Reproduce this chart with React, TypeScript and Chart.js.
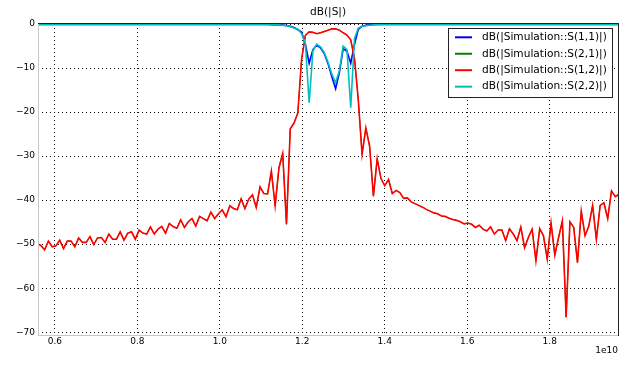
import React, { useEffect, useRef } from 'react';
import { Chart, registerables } from 'chart.js';

Chart.register(...registerables);

// Frequency sweep (units of 1e10 Hz)
const FREQ_START = 0.5569;
const FREQ_STEP = 0.009164;

const S12_DB = [
  -49.8, -50.3, -51.3, -49.3, -50.6, -50.4, -49.1, -51.0, -49.3, -49.3,
  -50.6, -48.6, -49.6, -49.6, -48.3, -50.1, -48.6, -48.5, -49.6, -47.7,
  -48.9, -48.9, -47.2, -49.1, -47.5, -47.2, -48.9, -46.8, -47.5, -47.7,
  -46.1, -47.7, -46.6, -46.0, -47.5, -45.3, -46.0, -46.4, -44.5, -46.2,
  -44.9, -44.2, -45.9, -43.7, -44.2, -44.7, -42.7, -44.2, -43.1, -42.2,
  -43.8, -41.3, -41.9, -42.2, -39.7, -41.9, -39.8, -38.8, -41.7, -37.0,
  -38.5, -38.6, -33.4, -41.3, -32.7, -29.4, -45.5, -23.8, -22.5, -20.2,
  -8.0, -2.6, -1.8, -1.9, -2.2, -2.0, -1.7, -1.4, -1.1, -1.1,
  -1.4, -2.0, -2.5, -3.6, -7.8, -17.2, -29.6, -23.6, -27.8, -39.1,
  -30.6, -35.1, -36.7, -35.3, -38.5, -37.8, -38.3, -39.6, -39.5, -40.4,
  -40.8, -41.2, -41.6, -42.1, -42.5, -42.9, -43.1, -43.6, -43.7, -44.1,
  -44.4, -44.6, -44.9, -45.4, -45.2, -45.5, -46.2, -45.7, -46.6, -47.0,
  -46.1, -47.7, -46.8, -46.8, -49.2, -46.5, -47.7, -49.2, -46.1, -50.8,
  -48.5, -46.6, -53.8, -46.5, -48.1, -53.4, -45.1, -52.5, -48.5, -44.7,
  -66.6, -44.9, -46.2, -54.2, -42.5, -48.1, -45.9, -41.2, -48.9, -41.2,
  -40.6, -44.2, -37.9, -39.2, -38.7,
];

// reciprocal network: S(2,1) equals S(1,2)
const S21_DB = [...S12_DB];

const S11_DB = [
  -0.1, -0.1, -0.1, -0.1, -0.1, -0.1, -0.1, -0.1, -0.1, -0.1,
  -0.1, -0.1, -0.1, -0.1, -0.1, -0.1, -0.1, -0.1, -0.1, -0.1,
  -0.1, -0.1, -0.1, -0.1, -0.1, -0.1, -0.1, -0.1, -0.1, -0.1,
  -0.1, -0.1, -0.1, -0.1, -0.1, -0.1, -0.1, -0.1, -0.1, -0.1,
  -0.1, -0.1, -0.1, -0.1, -0.1, -0.1, -0.1, -0.1, -0.1, -0.1,
  -0.1, -0.1, -0.1, -0.1, -0.1, -0.1, -0.1, -0.1, -0.1, -0.1,
  -0.12, -0.12, -0.15, -0.2, -0.2, -0.25, -0.35, -0.5, -0.8, -1.3,
  -1.8, -4.6, -8.9, -5.8, -4.8, -5.4, -6.7, -9.0, -12.0, -14.7,
  -11.0, -5.6, -6.2, -8.9, -4.6, -1.2, -0.5, -0.3, -0.2, -0.15,
  -0.12, -0.12, -0.1, -0.1, -0.1, -0.1, -0.1, -0.1, -0.1, -0.1,
  -0.1, -0.1, -0.1, -0.1, -0.1, -0.1, -0.1, -0.1, -0.1, -0.1,
  -0.1, -0.1, -0.1, -0.1, -0.1, -0.1, -0.1, -0.1, -0.1, -0.1,
  -0.1, -0.1, -0.1, -0.1, -0.1, -0.1, -0.1, -0.1, -0.1, -0.1,
  -0.1, -0.1, -0.1, -0.1, -0.1, -0.1, -0.1, -0.1, -0.1, -0.1,
  -0.1, -0.1, -0.1, -0.1, -0.1, -0.1, -0.1, -0.1, -0.1, -0.1,
  -0.1, -0.1, -0.1, -0.1, -0.1,
];

const S22_DB = [
  -0.1, -0.1, -0.1, -0.1, -0.1, -0.1, -0.1, -0.1, -0.1, -0.1,
  -0.1, -0.1, -0.1, -0.1, -0.1, -0.1, -0.1, -0.1, -0.1, -0.1,
  -0.1, -0.1, -0.1, -0.1, -0.1, -0.1, -0.1, -0.1, -0.1, -0.1,
  -0.1, -0.1, -0.1, -0.1, -0.1, -0.1, -0.1, -0.1, -0.1, -0.1,
  -0.1, -0.1, -0.1, -0.1, -0.1, -0.1, -0.1, -0.1, -0.1, -0.1,
  -0.1, -0.1, -0.1, -0.1, -0.1, -0.1, -0.1, -0.1, -0.1, -0.1,
  -0.12, -0.12, -0.15, -0.2, -0.2, -0.3, -0.4, -0.6, -0.9, -1.2,
  -2.2, -4.4, -17.9, -6.1, -4.6, -5.2, -6.5, -8.7, -11.4, -13.3,
  -10.6, -5.0, -5.8, -19.0, -3.3, -0.9, -0.5, -0.4, -0.3, -0.2,
  -0.15, -0.12, -0.1, -0.1, -0.1, -0.1, -0.1, -0.1, -0.1, -0.1,
  -0.1, -0.1, -0.1, -0.1, -0.1, -0.1, -0.1, -0.1, -0.1, -0.1,
  -0.1, -0.1, -0.1, -0.1, -0.1, -0.1, -0.1, -0.1, -0.1, -0.1,
  -0.1, -0.1, -0.1, -0.1, -0.1, -0.1, -0.1, -0.1, -0.1, -0.1,
  -0.1, -0.1, -0.1, -0.1, -0.1, -0.1, -0.1, -0.1, -0.1, -0.1,
  -0.1, -0.1, -0.1, -0.1, -0.1, -0.1, -0.1, -0.1, -0.1, -0.1,
  -0.1, -0.1, -0.1, -0.1, -0.1,
];

const SERIES_NAMES = [
  'dB(|Simulation::S(1,1)|)',
  'dB(|Simulation::S(2,1)|)',
  'dB(|Simulation::S(1,2)|)',
  'dB(|Simulation::S(2,2)|)',
];
const SERIES_COLORS = ['#0000ff', '#008000', '#ff0000', '#00bfbf'];
const SERIES_WIDTHS = [1.6, 1.0, 1.6, 1.6];
const X_TICKS = [0.6, 0.8, 1.0, 1.2, 1.4, 1.6, 1.8];
const Y_TICKS = [0, -10, -20, -30, -40, -50, -60, -70];
const TITLE = 'dB(|S|)';
const X_OFFSET_LABEL = '1e10';

const FONT = '"DejaVu Sans", sans-serif';

const FREQ = S12_DB.map((_, i) => FREQ_START + i * FREQ_STEP);

const toPoints = (vals: number[]) => vals.map((y, i) => ({ x: FREQ[i], y }));

const overlayPlugin = {
  id: 'overlay',
  afterDraw(chart: any) {
    const { ctx, chartArea: a } = chart;
    ctx.save();
    // spines
    ctx.lineWidth = 1;
    ctx.strokeStyle = '#c8c8c8';
    ctx.beginPath();
    ctx.moveTo(38.5, a.top);
    ctx.lineTo(38.5, 336);
    ctx.moveTo(38, 335.5);
    ctx.lineTo(618, 335.5);
    ctx.stroke();
    ctx.strokeStyle = '#222';
    ctx.beginPath();
    ctx.moveTo(618.5, 24);
    ctx.lineTo(618.5, 336);
    ctx.moveTo(38, 23.5);
    ctx.lineTo(619, 23.5);
    ctx.stroke();

    // title
    ctx.fillStyle = '#000';
    ctx.font = `10.6px ${FONT}`;
    ctx.textAlign = 'center';
    ctx.textBaseline = 'middle';
    ctx.fillText(TITLE, (a.left + a.right) / 2, 12);

    // offset label
    ctx.font = `9px ${FONT}`;
    ctx.textAlign = 'right';
    ctx.fillText(X_OFFSET_LABEL, 618, 351);

    // legend
    const bx = 448.5, by = 28.5, bw = 164, bh = 69;
    ctx.fillStyle = '#fff';
    ctx.fillRect(bx, by, bw, bh);
    ctx.strokeStyle = '#222';
    ctx.lineWidth = 1;
    ctx.strokeRect(bx, by, bw, bh);
    ctx.font = `10.6px ${FONT}`;
    ctx.textAlign = 'left';
    ctx.textBaseline = 'middle';
    SERIES_NAMES.forEach((name, i) => {
      const y = 37.3 + i * 16.45;
      ctx.strokeStyle = SERIES_COLORS[i];
      ctx.lineWidth = 2;
      ctx.beginPath();
      ctx.moveTo(455, y);
      ctx.lineTo(472, y);
      ctx.stroke();
      ctx.fillStyle = '#000';
      ctx.fillText(name, 482, y);
    });
    ctx.restore();
  },
};

export default function App() {
  const ref = useRef<HTMLCanvasElement | null>(null);
  useEffect(() => {
    document.body.style.margin = '0';
    const canvas = ref.current;
    if (!canvas) return;
    const datasets = [S11_DB, S21_DB, S12_DB, S22_DB].map((vals, i) => ({
      label: SERIES_NAMES[i],
      data: toPoints(vals),
      borderColor: SERIES_COLORS[i],
      backgroundColor: SERIES_COLORS[i],
      borderWidth: SERIES_WIDTHS[i],
      pointRadius: 0,
      tension: 0,
      fill: false,
      order: 4 - i,
    }));
    const chart = new Chart(canvas, {
      type: 'line',
      data: { datasets },
      options: {
        animation: false,
        responsive: false,
        devicePixelRatio: 1,
        layout: { padding: { left: 0, top: 24, right: 22, bottom: 0 } },
        plugins: {
          legend: { display: false },
          title: { display: false },
          tooltip: { enabled: false },
        },
        scales: {
          x: {
            type: 'linear',
            min: 0.5592,
            max: 1.9656,
            afterBuildTicks: (s: any) => {
              s.ticks = X_TICKS.map((v) => ({ value: v }));
            },
            afterFit: (s: any) => {
              s.height = 30.5;
            },
            grid: { color: '#111', lineWidth: 1, drawTicks: false },
            border: { display: false, dash: [1, 3] },
            ticks: {
              padding: 1,
              color: '#000',
              font: { family: FONT, size: 9 },
              maxRotation: 0,
              autoSkip: false,
              callback: (v: any) => Number(v).toFixed(1),
            },
          },
          y: {
            type: 'linear',
            min: -70.75,
            max: 0,
            afterBuildTicks: (s: any) => {
              s.ticks = Y_TICKS.map((v) => ({ value: v }));
            },
            afterFit: (s: any) => {
              s.width = 38;
            },
            grid: { color: '#111', lineWidth: 1, drawTicks: false },
            border: { display: false, dash: [1, 3] },
            ticks: {
              padding: 3,
              color: '#000',
              font: { family: FONT, size: 9 },
              autoSkip: false,
              callback: (v: any) => (Number(v) < 0 ? '\u2212' + Math.abs(Number(v)) : String(v)),
            },
          },
        },
      },
      plugins: [overlayPlugin],
    });
    return () => chart.destroy();
  }, []);
  return (
    <div style={{ width: 640, height: 366, background: '#fff' }}>
      <canvas ref={ref} width={640} height={366} style={{ display: 'block' }} />
    </div>
  );
}
